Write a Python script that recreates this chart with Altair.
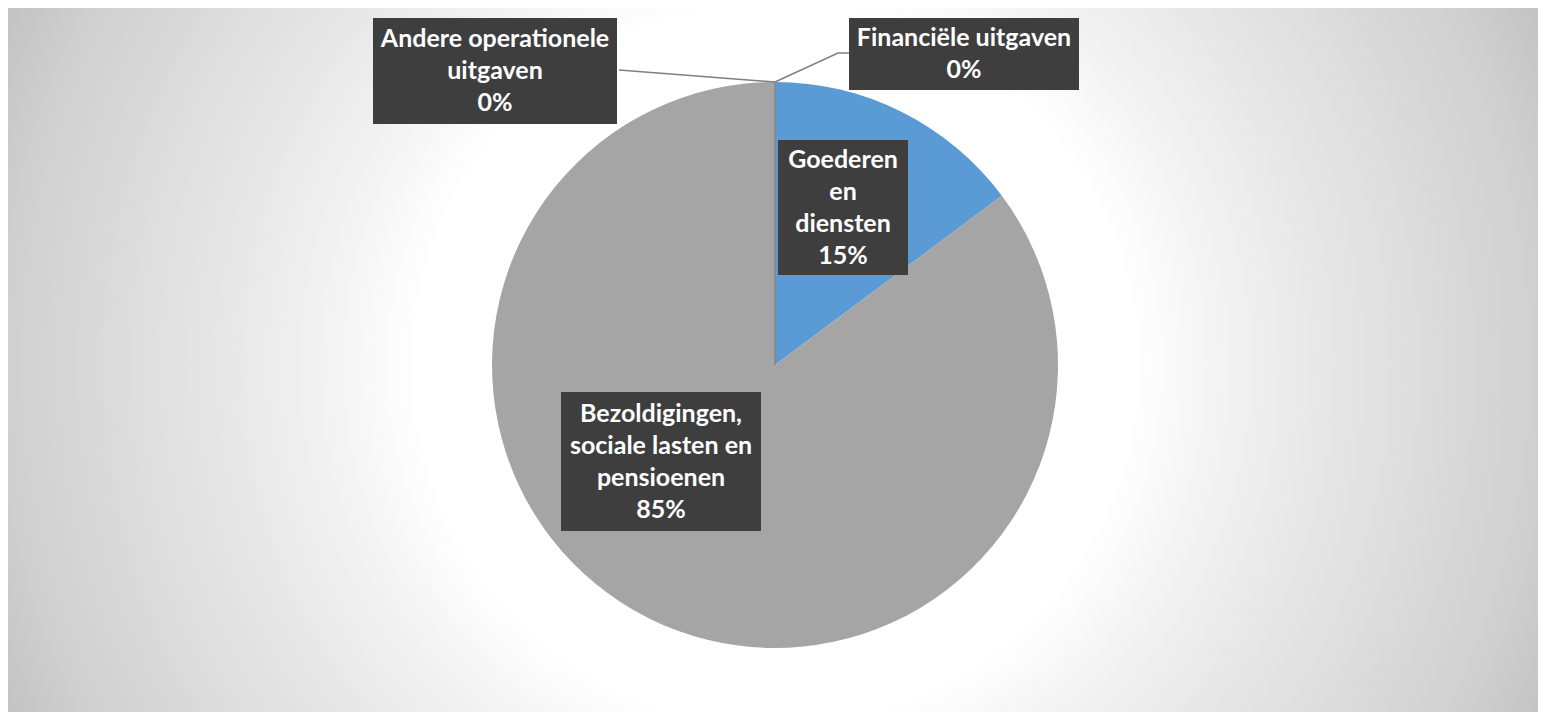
import altair as alt
import pandas as pd

# ---- data ----
categories = ["Financiële uitgaven", "Goederen en diensten",
              "Bezoldigingen, sociale lasten en pensioenen", "Andere operationele uitgaven"]
values = [0.0, 14.8, 85.2, 0.0]
pct_labels = ["0%", "15%", "85%", "0%"]
label_text = ["Financiële uitgaven", "Goederen\nen\ndiensten",
              "Bezoldigingen,\nsociale lasten en\npensioenen", "Andere operationele\nuitgaven"]
colors = ["#ED7D31", "#5B9BD5", "#A5A5A5", "#FFC000"]

# ---- layout of the data labels (annotation boxes, pixels) ----
box_x = [841, 770, 553, 365]
box_x2 = [1071, 900, 753, 609]
box_y = [10, 132, 384, 10]
box_y2 = [82, 267, 523, 116]
leader_x = [[767, 830, 841], [], [], [611, 767]]
leader_y = [[74, 45, 45], [], [], [62, 74]]
LINE_H = 32

W, H = 1530, 704
CX, CY, R = 767, 357, 283

pie_df = pd.DataFrame({"cat": categories, "value": values, "idx": list(range(len(values)))})
lab_df = pd.DataFrame({
    "cat": categories,
    "text": [t + "\n" + p for t, p in zip(label_text, pct_labels)],
    "x": box_x, "x2": box_x2, "y": box_y, "y2": box_y2,
})
lab_df["cx"] = (lab_df["x"] + lab_df["x2"]) / 2
nlines = lab_df["text"].str.count("\n") + 1
lab_df["cy"] = (lab_df["y"] + lab_df["y2"]) / 2 - (nlines - 1) * LINE_H / 2

rows = []
for i, (xs_, ys_) in enumerate(zip(leader_x, leader_y)):
    for j, (lx, ly) in enumerate(zip(xs_, ys_)):
        rows.append({"seg": i, "ord": j, "x": lx, "y": ly})
lead_df = pd.DataFrame(rows)

xs = alt.Scale(domain=[0, W], nice=False, zero=False)
ys = alt.Scale(domain=[0, H], nice=False, zero=False, reverse=True)

bg = alt.Chart(pd.DataFrame({"a": [1]})).mark_rect(
    clip=True,
    fill=alt.RadialGradient(
        gradient="radial", x1=0.5, y1=0.5, r1=0, x2=0.5, y2=0.5, r2=0.5,
        stops=[alt.GradientStop(offset=0, color="#ffffff"),
               alt.GradientStop(offset=0.42, color="#ffffff"),
               alt.GradientStop(offset=0.56, color="#efefef"),
               alt.GradientStop(offset=0.9, color="#d0d0d0"),
               alt.GradientStop(offset=1.0, color="#c2c2c2")]),
).encode(x=alt.value(CX - 850), x2=alt.value(CX + 850),
         y=alt.value(CY - 850), y2=alt.value(CY + 850))

pie = alt.Chart(pie_df).mark_arc(outerRadius=R).encode(
    theta=alt.Theta("value:Q", stack=True),
    color=alt.Color("cat:N", scale=alt.Scale(domain=categories, range=colors), legend=None),
    order=alt.Order("idx:Q"),
    x=alt.value(CX), y=alt.value(CY),
)

zero_edges = alt.Chart(pie_df).transform_filter("datum.value == 0").mark_arc(
    outerRadius=R, fillOpacity=0, stroke="#8a8a8a", strokeWidth=1
).encode(
    theta=alt.Theta("value:Q", stack=True),
    x=alt.value(CX), y=alt.value(CY),
)

leaders = alt.Chart(lead_df).mark_line(color="#7f7f7f", strokeWidth=1.5).encode(
    x=alt.X("x:Q", scale=xs, axis=None),
    y=alt.Y("y:Q", scale=ys, axis=None),
    detail="seg:N", order="ord:Q",
)

shadow = alt.Chart(lab_df).mark_rect(color="#000000", opacity=0.25, xOffset=3, yOffset=3).encode(
    x=alt.X("x:Q", scale=xs, axis=None), x2="x2:Q",
    y=alt.Y("y:Q", scale=ys, axis=None), y2="y2:Q",
)
boxes = alt.Chart(lab_df).mark_rect(color="#3e3e3e").encode(
    x=alt.X("x:Q", scale=xs, axis=None), x2="x2:Q",
    y=alt.Y("y:Q", scale=ys, axis=None), y2="y2:Q",
)
texts = alt.Chart(lab_df).mark_text(
    color="white", font="Lato", fontWeight="bold", fontSize=25,
    lineBreak="\n", lineHeight=LINE_H, align="center", baseline="middle",
).encode(
    x=alt.X("cx:Q", scale=xs, axis=None),
    y=alt.Y("cy:Q", scale=ys, axis=None),
    text="text:N",
)

chart = alt.layer(bg, pie, zero_edges, leaders, shadow, boxes, texts).properties(
    width=W, height=H, padding=0, autosize=alt.AutoSizeParams(type="none"),
    background="white",
).configure_view(stroke=None)

chart.save("out.html", embed_options={"renderer": "svg", "actions": False})
